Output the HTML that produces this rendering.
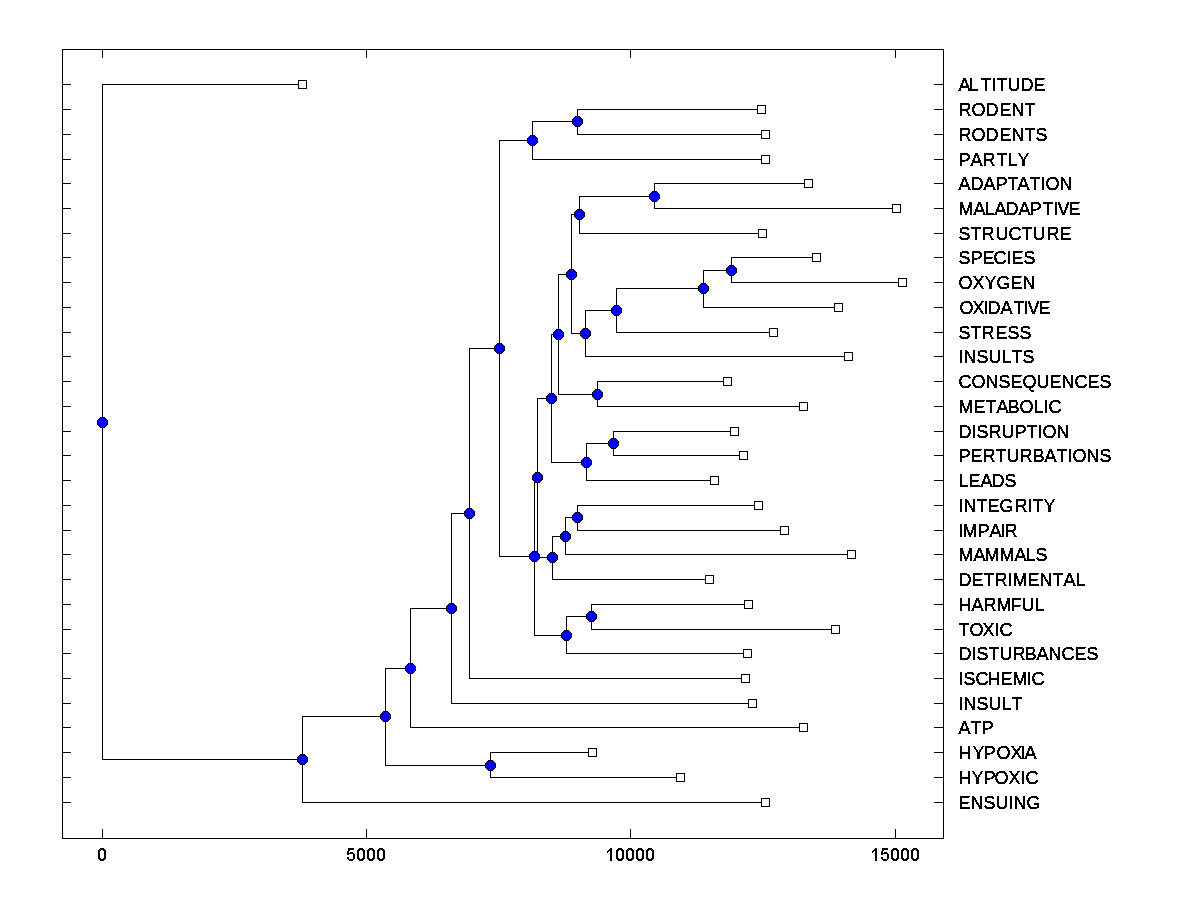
<!DOCTYPE html>
<html lang="en"><head><meta charset="utf-8"><title>Dendrogram</title>
<style>
html,body{margin:0;padding:0;background:#fff;}
body{width:1200px;height:900px;overflow:hidden;}
svg{display:block;}
.t text{font-family:"Liberation Sans",sans-serif;font-size:18px;fill:#000;font-kerning:none;}
</style></head><body>
<svg width="1200" height="900" viewBox="0 0 1200 900" shape-rendering="crispEdges">
<defs>
<filter id="bw" x="0" y="0" width="100%" height="100%" filterUnits="userSpaceOnUse" color-interpolation-filters="sRGB"><feComponentTransfer><feFuncA type="discrete" tableValues="0 1 1 1"/></feComponentTransfer></filter>
<filter id="bw2" x="0" y="0" width="100%" height="100%" filterUnits="userSpaceOnUse" color-interpolation-filters="sRGB"><feComponentTransfer><feFuncA type="discrete" tableValues="0 1 1"/></feComponentTransfer></filter>
<g id="lf"><rect x="0" y="0" width="9" height="9" fill="#000"/><rect x="1" y="1" width="7" height="7" fill="#fff"/></g>
<g id="nd">
<g fill="#000"><rect x="3" y="0" width="5" height="1"/><rect x="2" y="1" width="7" height="1"/><rect x="1" y="2" width="9" height="1"/><rect x="0" y="3" width="11" height="5"/><rect x="1" y="8" width="9" height="1"/><rect x="2" y="9" width="7" height="1"/><rect x="3" y="10" width="5" height="1"/></g>
<g fill="#0000ff"><rect x="3" y="1" width="5" height="1"/><rect x="2" y="2" width="7" height="1"/><rect x="1" y="3" width="9" height="5"/><rect x="2" y="8" width="7" height="1"/><rect x="3" y="9" width="5" height="1"/></g>
</g>
</defs>
<rect x="0" y="0" width="1200" height="900" fill="#fff"/>
<g fill="#000">
<rect x="62" y="49" width="882" height="1"/>
<rect x="62" y="838" width="882" height="1"/>
<rect x="62" y="49" width="1" height="790"/>
<rect x="943" y="49" width="1" height="790"/>
<rect x="62" y="84" width="9" height="1"/>
<rect x="934" y="84" width="10" height="1"/>
<rect x="62" y="109" width="9" height="1"/>
<rect x="934" y="109" width="10" height="1"/>
<rect x="62" y="134" width="9" height="1"/>
<rect x="934" y="134" width="10" height="1"/>
<rect x="62" y="159" width="9" height="1"/>
<rect x="934" y="159" width="10" height="1"/>
<rect x="62" y="183" width="9" height="1"/>
<rect x="934" y="183" width="10" height="1"/>
<rect x="62" y="208" width="9" height="1"/>
<rect x="934" y="208" width="10" height="1"/>
<rect x="62" y="233" width="9" height="1"/>
<rect x="934" y="233" width="10" height="1"/>
<rect x="62" y="257" width="9" height="1"/>
<rect x="934" y="257" width="10" height="1"/>
<rect x="62" y="282" width="9" height="1"/>
<rect x="934" y="282" width="10" height="1"/>
<rect x="62" y="307" width="9" height="1"/>
<rect x="934" y="307" width="10" height="1"/>
<rect x="62" y="332" width="9" height="1"/>
<rect x="934" y="332" width="10" height="1"/>
<rect x="62" y="356" width="9" height="1"/>
<rect x="934" y="356" width="10" height="1"/>
<rect x="62" y="381" width="9" height="1"/>
<rect x="934" y="381" width="10" height="1"/>
<rect x="62" y="406" width="9" height="1"/>
<rect x="934" y="406" width="10" height="1"/>
<rect x="62" y="431" width="9" height="1"/>
<rect x="934" y="431" width="10" height="1"/>
<rect x="62" y="455" width="9" height="1"/>
<rect x="934" y="455" width="10" height="1"/>
<rect x="62" y="480" width="9" height="1"/>
<rect x="934" y="480" width="10" height="1"/>
<rect x="62" y="505" width="9" height="1"/>
<rect x="934" y="505" width="10" height="1"/>
<rect x="62" y="530" width="9" height="1"/>
<rect x="934" y="530" width="10" height="1"/>
<rect x="62" y="554" width="9" height="1"/>
<rect x="934" y="554" width="10" height="1"/>
<rect x="62" y="579" width="9" height="1"/>
<rect x="934" y="579" width="10" height="1"/>
<rect x="62" y="604" width="9" height="1"/>
<rect x="934" y="604" width="10" height="1"/>
<rect x="62" y="629" width="9" height="1"/>
<rect x="934" y="629" width="10" height="1"/>
<rect x="62" y="653" width="9" height="1"/>
<rect x="934" y="653" width="10" height="1"/>
<rect x="62" y="678" width="9" height="1"/>
<rect x="934" y="678" width="10" height="1"/>
<rect x="62" y="703" width="9" height="1"/>
<rect x="934" y="703" width="10" height="1"/>
<rect x="62" y="727" width="9" height="1"/>
<rect x="934" y="727" width="10" height="1"/>
<rect x="62" y="752" width="9" height="1"/>
<rect x="934" y="752" width="10" height="1"/>
<rect x="62" y="777" width="9" height="1"/>
<rect x="934" y="777" width="10" height="1"/>
<rect x="62" y="802" width="9" height="1"/>
<rect x="934" y="802" width="10" height="1"/>
<rect x="102" y="49" width="1" height="9"/>
<rect x="102" y="829" width="1" height="10"/>
<rect x="366" y="49" width="1" height="9"/>
<rect x="366" y="829" width="1" height="10"/>
<rect x="630" y="49" width="1" height="9"/>
<rect x="630" y="829" width="1" height="10"/>
<rect x="895" y="49" width="1" height="9"/>
<rect x="895" y="829" width="1" height="10"/>
<rect x="102" y="84" width="1" height="676"/>
<rect x="102" y="84" width="201" height="1"/>
<rect x="102" y="759" width="201" height="1"/>
<rect x="302" y="716" width="1" height="87"/>
<rect x="302" y="716" width="84" height="1"/>
<rect x="302" y="802" width="464" height="1"/>
<rect x="385" y="668" width="1" height="98"/>
<rect x="385" y="668" width="26" height="1"/>
<rect x="385" y="765" width="106" height="1"/>
<rect x="410" y="608" width="1" height="120"/>
<rect x="410" y="608" width="42" height="1"/>
<rect x="410" y="727" width="394" height="1"/>
<rect x="451" y="513" width="1" height="191"/>
<rect x="451" y="513" width="19" height="1"/>
<rect x="451" y="703" width="302" height="1"/>
<rect x="469" y="348" width="1" height="331"/>
<rect x="469" y="348" width="31" height="1"/>
<rect x="469" y="678" width="277" height="1"/>
<rect x="499" y="140" width="1" height="417"/>
<rect x="499" y="140" width="34" height="1"/>
<rect x="499" y="556" width="36" height="1"/>
<rect x="532" y="121" width="1" height="39"/>
<rect x="532" y="121" width="46" height="1"/>
<rect x="532" y="159" width="234" height="1"/>
<rect x="577" y="109" width="1" height="26"/>
<rect x="577" y="109" width="185" height="1"/>
<rect x="577" y="134" width="189" height="1"/>
<rect x="534" y="477" width="1" height="159"/>
<rect x="534" y="477" width="4" height="1"/>
<rect x="534" y="635" width="33" height="1"/>
<rect x="537" y="398" width="1" height="160"/>
<rect x="537" y="398" width="15" height="1"/>
<rect x="537" y="557" width="16" height="1"/>
<rect x="551" y="334" width="1" height="129"/>
<rect x="551" y="334" width="8" height="1"/>
<rect x="551" y="462" width="36" height="1"/>
<rect x="558" y="274" width="1" height="121"/>
<rect x="558" y="274" width="14" height="1"/>
<rect x="558" y="394" width="40" height="1"/>
<rect x="571" y="214" width="1" height="120"/>
<rect x="571" y="214" width="9" height="1"/>
<rect x="571" y="333" width="15" height="1"/>
<rect x="579" y="196" width="1" height="38"/>
<rect x="579" y="196" width="76" height="1"/>
<rect x="579" y="233" width="184" height="1"/>
<rect x="654" y="183" width="1" height="26"/>
<rect x="654" y="183" width="155" height="1"/>
<rect x="654" y="208" width="243" height="1"/>
<rect x="585" y="310" width="1" height="47"/>
<rect x="585" y="310" width="32" height="1"/>
<rect x="585" y="356" width="264" height="1"/>
<rect x="616" y="288" width="1" height="45"/>
<rect x="616" y="288" width="88" height="1"/>
<rect x="616" y="332" width="158" height="1"/>
<rect x="703" y="270" width="1" height="38"/>
<rect x="703" y="270" width="29" height="1"/>
<rect x="703" y="307" width="136" height="1"/>
<rect x="731" y="257" width="1" height="26"/>
<rect x="731" y="257" width="86" height="1"/>
<rect x="731" y="282" width="172" height="1"/>
<rect x="597" y="381" width="1" height="26"/>
<rect x="597" y="381" width="131" height="1"/>
<rect x="597" y="406" width="207" height="1"/>
<rect x="586" y="443" width="1" height="38"/>
<rect x="586" y="443" width="28" height="1"/>
<rect x="586" y="480" width="129" height="1"/>
<rect x="613" y="431" width="1" height="25"/>
<rect x="613" y="431" width="122" height="1"/>
<rect x="613" y="455" width="131" height="1"/>
<rect x="552" y="536" width="1" height="44"/>
<rect x="552" y="536" width="14" height="1"/>
<rect x="552" y="579" width="158" height="1"/>
<rect x="565" y="517" width="1" height="38"/>
<rect x="565" y="517" width="13" height="1"/>
<rect x="565" y="554" width="287" height="1"/>
<rect x="577" y="505" width="1" height="26"/>
<rect x="577" y="505" width="182" height="1"/>
<rect x="577" y="530" width="208" height="1"/>
<rect x="566" y="616" width="1" height="38"/>
<rect x="566" y="616" width="26" height="1"/>
<rect x="566" y="653" width="182" height="1"/>
<rect x="591" y="604" width="1" height="26"/>
<rect x="591" y="604" width="158" height="1"/>
<rect x="591" y="629" width="245" height="1"/>
<rect x="490" y="752" width="1" height="26"/>
<rect x="490" y="752" width="103" height="1"/>
<rect x="490" y="777" width="191" height="1"/>
</g>
<use href="#lf" x="298" y="80"/>
<use href="#lf" x="757" y="105"/>
<use href="#lf" x="761" y="130"/>
<use href="#lf" x="761" y="155"/>
<use href="#lf" x="804" y="179"/>
<use href="#lf" x="892" y="204"/>
<use href="#lf" x="758" y="229"/>
<use href="#lf" x="812" y="253"/>
<use href="#lf" x="898" y="278"/>
<use href="#lf" x="834" y="303"/>
<use href="#lf" x="769" y="328"/>
<use href="#lf" x="844" y="352"/>
<use href="#lf" x="723" y="377"/>
<use href="#lf" x="799" y="402"/>
<use href="#lf" x="730" y="427"/>
<use href="#lf" x="739" y="451"/>
<use href="#lf" x="710" y="476"/>
<use href="#lf" x="754" y="501"/>
<use href="#lf" x="780" y="526"/>
<use href="#lf" x="847" y="550"/>
<use href="#lf" x="705" y="575"/>
<use href="#lf" x="744" y="600"/>
<use href="#lf" x="831" y="625"/>
<use href="#lf" x="743" y="649"/>
<use href="#lf" x="741" y="674"/>
<use href="#lf" x="748" y="699"/>
<use href="#lf" x="799" y="723"/>
<use href="#lf" x="588" y="748"/>
<use href="#lf" x="676" y="773"/>
<use href="#lf" x="761" y="798"/>
<use href="#nd" x="97" y="417"/>
<use href="#nd" x="297" y="754"/>
<use href="#nd" x="380" y="711"/>
<use href="#nd" x="405" y="663"/>
<use href="#nd" x="446" y="603"/>
<use href="#nd" x="464" y="508"/>
<use href="#nd" x="494" y="343"/>
<use href="#nd" x="527" y="135"/>
<use href="#nd" x="572" y="116"/>
<use href="#nd" x="529" y="551"/>
<use href="#nd" x="532" y="472"/>
<use href="#nd" x="546" y="393"/>
<use href="#nd" x="553" y="329"/>
<use href="#nd" x="566" y="269"/>
<use href="#nd" x="574" y="209"/>
<use href="#nd" x="649" y="191"/>
<use href="#nd" x="580" y="328"/>
<use href="#nd" x="611" y="305"/>
<use href="#nd" x="698" y="283"/>
<use href="#nd" x="726" y="265"/>
<use href="#nd" x="592" y="389"/>
<use href="#nd" x="581" y="457"/>
<use href="#nd" x="608" y="438"/>
<use href="#nd" x="547" y="552"/>
<use href="#nd" x="560" y="531"/>
<use href="#nd" x="572" y="512"/>
<use href="#nd" x="561" y="630"/>
<use href="#nd" x="586" y="611"/>
<use href="#nd" x="485" y="760"/>
<g class="t" filter="url(#bw)">
<text x="958.5 968.5 980.5 991.5 996.5 1007.5 1020.5 1033.5" y="91">ALTITUDE</text>
<text x="958.5 971.5 985.5 999.5 1011.5 1024.5" y="116">RODENT</text>
<text x="958.5 971.5 985.5 999.5 1011.5 1024.5 1035.5" y="141">RODENTS</text>
<text x="958.5 970.5 982.5 996.5 1007.5 1017.5" y="166">PARTLY</text>
<text x="958.5 970.5 983.5 995.5 1007.5 1017.5 1029.5 1040.5 1045.5 1059.5" y="190">ADAPTATION</text>
<text x="958.5 973.5 984.5 994.5 1005.5 1018.5 1029.5 1042.5 1053.5 1057.5 1068.5" y="215">MALADAPTIVE</text>
<text x="958.5 970.5 981.5 995.5 1008.5 1021.5 1032.5 1046.5 1059.5" y="240">STRUCTURE</text>
<text x="958.5 970.5 982.5 993.5 1006.5 1011.5 1023.5" y="264">SPECIES</text>
<text x="958.5 972.5 984.5 996.5 1010.5 1022.5" y="289">OXYGEN</text>
<text x="959.5 972.5 983.5 987.5 1000.5 1013.5 1023.5 1027.5 1038.5" y="314">OXIDATIVE</text>
<text x="958.5 970.5 981.5 995.5 1007.5 1019.5" y="339">STRESS</text>
<text x="958.5 963.5 976.5 988.5 1001.5 1011.5 1022.5" y="363">INSULTS</text>
<text x="958.5 971.5 985.5 998.5 1010.5 1022.5 1036.5 1049.5 1061.5 1074.5 1087.5 1099.5" y="388">CONSEQUENCES</text>
<text x="958.5 973.5 985.5 996.5 1007.5 1019.5 1033.5 1043.5 1048.5" y="413">METABOLIC</text>
<text x="958.5 971.5 976.5 988.5 1001.5 1014.5 1026.5 1037.5 1042.5 1056.5" y="438">DISRUPTION</text>
<text x="958.5 970.5 982.5 995.5 1006.5 1019.5 1032.5 1044.5 1056.5 1067.5 1072.5 1086.5 1099.5" y="462">PERTURBATIONS</text>
<text x="958.5 968.5 980.5 991.5 1004.5" y="487">LEADS</text>
<text x="958.5 963.5 976.5 987.5 999.5 1014.5 1027.5 1032.5 1043.5" y="512">INTEGRITY</text>
<text x="958.5 962.5 977.5 989.5 1000.5 1004.5" y="537">IMPAIR</text>
<text x="958.5 973.5 984.5 999.5 1014.5 1025.5 1035.5" y="561">MAMMALS</text>
<text x="958.5 971.5 983.5 994.5 1007.5 1012.5 1027.5 1039.5 1052.5 1063.5 1075.5" y="586">DETRIMENTAL</text>
<text x="958.5 971.5 983.5 996.5 1010.5 1021.5 1034.5" y="611">HARMFUL</text>
<text x="958.5 969.5 982.5 994.5 999.5" y="636">TOXIC</text>
<text x="958.5 971.5 976.5 988.5 999.5 1012.5 1024.5 1036.5 1048.5 1061.5 1074.5 1086.5" y="660">DISTURBANCES</text>
<text x="958.5 963.5 975.5 987.5 1000.5 1012.5 1026.5 1031.5" y="685">ISCHEMIC</text>
<text x="958.5 963.5 976.5 988.5 1001.5 1011.5" y="710">INSULT</text>
<text x="958.5 970.5 981.5" y="734">ATP</text>
<text x="958.5 972.5 983.5 996.5 1010.5 1020.5 1024.5" y="759">HYPOXIA</text>
<text x="958.5 971.5 983.5 994.5 1008.5 1020.5 1025.5" y="784">HYPOXIC</text>
<text x="958.5 970.5 983.5 995.5 1008.5 1013.5 1026.5" y="809">ENSUING</text>
</g>
<g fill="#000">
<g role="img" aria-label="0"><title>0</title><path d="M100 848h4v1h-4zM99 849h6v1h-6zM98 850h3v1h-3zM103 850h3v1h-3zM98 851h2v1h-2zM104 851h2v1h-2zM98 852h2v1h-2zM104 852h2v1h-2zM98 853h2v1h-2zM104 853h2v1h-2zM98 854h2v1h-2zM104 854h2v1h-2zM98 855h2v1h-2zM104 855h2v1h-2zM98 856h2v1h-2zM104 856h2v1h-2zM98 857h2v1h-2zM104 857h2v1h-2zM98 858h3v1h-3zM103 858h3v1h-3zM99 859h6v1h-6zM100 860h4v1h-4z"/></g>
<g role="img" aria-label="5000"><title>5000</title><path d="M348 848h6v1h-6zM348 849h6v1h-6zM348 850h2v1h-2zM347 851h2v1h-2zM347 852h2v1h-2zM350 852h3v1h-3zM347 853h7v1h-7zM347 854h2v1h-2zM353 854h2v1h-2zM353 855h2v1h-2zM353 856h2v1h-2zM347 857h2v1h-2zM353 857h2v1h-2zM347 858h2v1h-2zM353 858h2v1h-2zM348 859h6v1h-6zM349 860h4v1h-4zM359 848h4v1h-4zM358 849h6v1h-6zM357 850h3v1h-3zM362 850h3v1h-3zM357 851h2v1h-2zM363 851h2v1h-2zM357 852h2v1h-2zM363 852h2v1h-2zM357 853h2v1h-2zM363 853h2v1h-2zM357 854h2v1h-2zM363 854h2v1h-2zM357 855h2v1h-2zM363 855h2v1h-2zM357 856h2v1h-2zM363 856h2v1h-2zM357 857h2v1h-2zM363 857h2v1h-2zM357 858h3v1h-3zM362 858h3v1h-3zM358 859h6v1h-6zM359 860h4v1h-4zM369 848h4v1h-4zM368 849h6v1h-6zM367 850h3v1h-3zM372 850h3v1h-3zM367 851h2v1h-2zM373 851h2v1h-2zM367 852h2v1h-2zM373 852h2v1h-2zM367 853h2v1h-2zM373 853h2v1h-2zM367 854h2v1h-2zM373 854h2v1h-2zM367 855h2v1h-2zM373 855h2v1h-2zM367 856h2v1h-2zM373 856h2v1h-2zM367 857h2v1h-2zM373 857h2v1h-2zM367 858h3v1h-3zM372 858h3v1h-3zM368 859h6v1h-6zM369 860h4v1h-4zM379 848h4v1h-4zM378 849h6v1h-6zM377 850h3v1h-3zM382 850h3v1h-3zM377 851h2v1h-2zM383 851h2v1h-2zM377 852h2v1h-2zM383 852h2v1h-2zM377 853h2v1h-2zM383 853h2v1h-2zM377 854h2v1h-2zM383 854h2v1h-2zM377 855h2v1h-2zM383 855h2v1h-2zM377 856h2v1h-2zM383 856h2v1h-2zM377 857h2v1h-2zM383 857h2v1h-2zM377 858h3v1h-3zM382 858h3v1h-3zM378 859h6v1h-6zM379 860h4v1h-4z"/></g>
<g role="img" aria-label="10000"><title>10000</title><path d="M610 848h2v1h-2zM609 849h3v1h-3zM608 850h4v1h-4zM607 851h2v1h-2zM610 851h2v1h-2zM607 852h1v1h-1zM610 852h2v1h-2zM610 853h2v1h-2zM610 854h2v1h-2zM610 855h2v1h-2zM610 856h2v1h-2zM610 857h2v1h-2zM610 858h2v1h-2zM610 859h2v1h-2zM610 860h2v1h-2zM618 848h4v1h-4zM617 849h6v1h-6zM616 850h3v1h-3zM621 850h3v1h-3zM616 851h2v1h-2zM622 851h2v1h-2zM616 852h2v1h-2zM622 852h2v1h-2zM616 853h2v1h-2zM622 853h2v1h-2zM616 854h2v1h-2zM622 854h2v1h-2zM616 855h2v1h-2zM622 855h2v1h-2zM616 856h2v1h-2zM622 856h2v1h-2zM616 857h2v1h-2zM622 857h2v1h-2zM616 858h3v1h-3zM621 858h3v1h-3zM617 859h6v1h-6zM618 860h4v1h-4zM628 848h4v1h-4zM627 849h6v1h-6zM626 850h3v1h-3zM631 850h3v1h-3zM626 851h2v1h-2zM632 851h2v1h-2zM626 852h2v1h-2zM632 852h2v1h-2zM626 853h2v1h-2zM632 853h2v1h-2zM626 854h2v1h-2zM632 854h2v1h-2zM626 855h2v1h-2zM632 855h2v1h-2zM626 856h2v1h-2zM632 856h2v1h-2zM626 857h2v1h-2zM632 857h2v1h-2zM626 858h3v1h-3zM631 858h3v1h-3zM627 859h6v1h-6zM628 860h4v1h-4zM638 848h4v1h-4zM637 849h6v1h-6zM636 850h3v1h-3zM641 850h3v1h-3zM636 851h2v1h-2zM642 851h2v1h-2zM636 852h2v1h-2zM642 852h2v1h-2zM636 853h2v1h-2zM642 853h2v1h-2zM636 854h2v1h-2zM642 854h2v1h-2zM636 855h2v1h-2zM642 855h2v1h-2zM636 856h2v1h-2zM642 856h2v1h-2zM636 857h2v1h-2zM642 857h2v1h-2zM636 858h3v1h-3zM641 858h3v1h-3zM637 859h6v1h-6zM638 860h4v1h-4zM648 848h4v1h-4zM647 849h6v1h-6zM646 850h3v1h-3zM651 850h3v1h-3zM646 851h2v1h-2zM652 851h2v1h-2zM646 852h2v1h-2zM652 852h2v1h-2zM646 853h2v1h-2zM652 853h2v1h-2zM646 854h2v1h-2zM652 854h2v1h-2zM646 855h2v1h-2zM652 855h2v1h-2zM646 856h2v1h-2zM652 856h2v1h-2zM646 857h2v1h-2zM652 857h2v1h-2zM646 858h3v1h-3zM651 858h3v1h-3zM647 859h6v1h-6zM648 860h4v1h-4z"/></g>
<g role="img" aria-label="15000"><title>15000</title><path d="M875 848h2v1h-2zM874 849h3v1h-3zM873 850h4v1h-4zM872 851h2v1h-2zM875 851h2v1h-2zM872 852h1v1h-1zM875 852h2v1h-2zM875 853h2v1h-2zM875 854h2v1h-2zM875 855h2v1h-2zM875 856h2v1h-2zM875 857h2v1h-2zM875 858h2v1h-2zM875 859h2v1h-2zM875 860h2v1h-2zM882 848h6v1h-6zM882 849h6v1h-6zM882 850h2v1h-2zM881 851h2v1h-2zM881 852h2v1h-2zM884 852h3v1h-3zM881 853h7v1h-7zM881 854h2v1h-2zM887 854h2v1h-2zM887 855h2v1h-2zM887 856h2v1h-2zM881 857h2v1h-2zM887 857h2v1h-2zM881 858h2v1h-2zM887 858h2v1h-2zM882 859h6v1h-6zM883 860h4v1h-4zM893 848h4v1h-4zM892 849h6v1h-6zM891 850h3v1h-3zM896 850h3v1h-3zM891 851h2v1h-2zM897 851h2v1h-2zM891 852h2v1h-2zM897 852h2v1h-2zM891 853h2v1h-2zM897 853h2v1h-2zM891 854h2v1h-2zM897 854h2v1h-2zM891 855h2v1h-2zM897 855h2v1h-2zM891 856h2v1h-2zM897 856h2v1h-2zM891 857h2v1h-2zM897 857h2v1h-2zM891 858h3v1h-3zM896 858h3v1h-3zM892 859h6v1h-6zM893 860h4v1h-4zM903 848h4v1h-4zM902 849h6v1h-6zM901 850h3v1h-3zM906 850h3v1h-3zM901 851h2v1h-2zM907 851h2v1h-2zM901 852h2v1h-2zM907 852h2v1h-2zM901 853h2v1h-2zM907 853h2v1h-2zM901 854h2v1h-2zM907 854h2v1h-2zM901 855h2v1h-2zM907 855h2v1h-2zM901 856h2v1h-2zM907 856h2v1h-2zM901 857h2v1h-2zM907 857h2v1h-2zM901 858h3v1h-3zM906 858h3v1h-3zM902 859h6v1h-6zM903 860h4v1h-4zM913 848h4v1h-4zM912 849h6v1h-6zM911 850h3v1h-3zM916 850h3v1h-3zM911 851h2v1h-2zM917 851h2v1h-2zM911 852h2v1h-2zM917 852h2v1h-2zM911 853h2v1h-2zM917 853h2v1h-2zM911 854h2v1h-2zM917 854h2v1h-2zM911 855h2v1h-2zM917 855h2v1h-2zM911 856h2v1h-2zM917 856h2v1h-2zM911 857h2v1h-2zM917 857h2v1h-2zM911 858h3v1h-3zM916 858h3v1h-3zM912 859h6v1h-6zM913 860h4v1h-4z"/></g>
</g>
</svg>
</body></html>
